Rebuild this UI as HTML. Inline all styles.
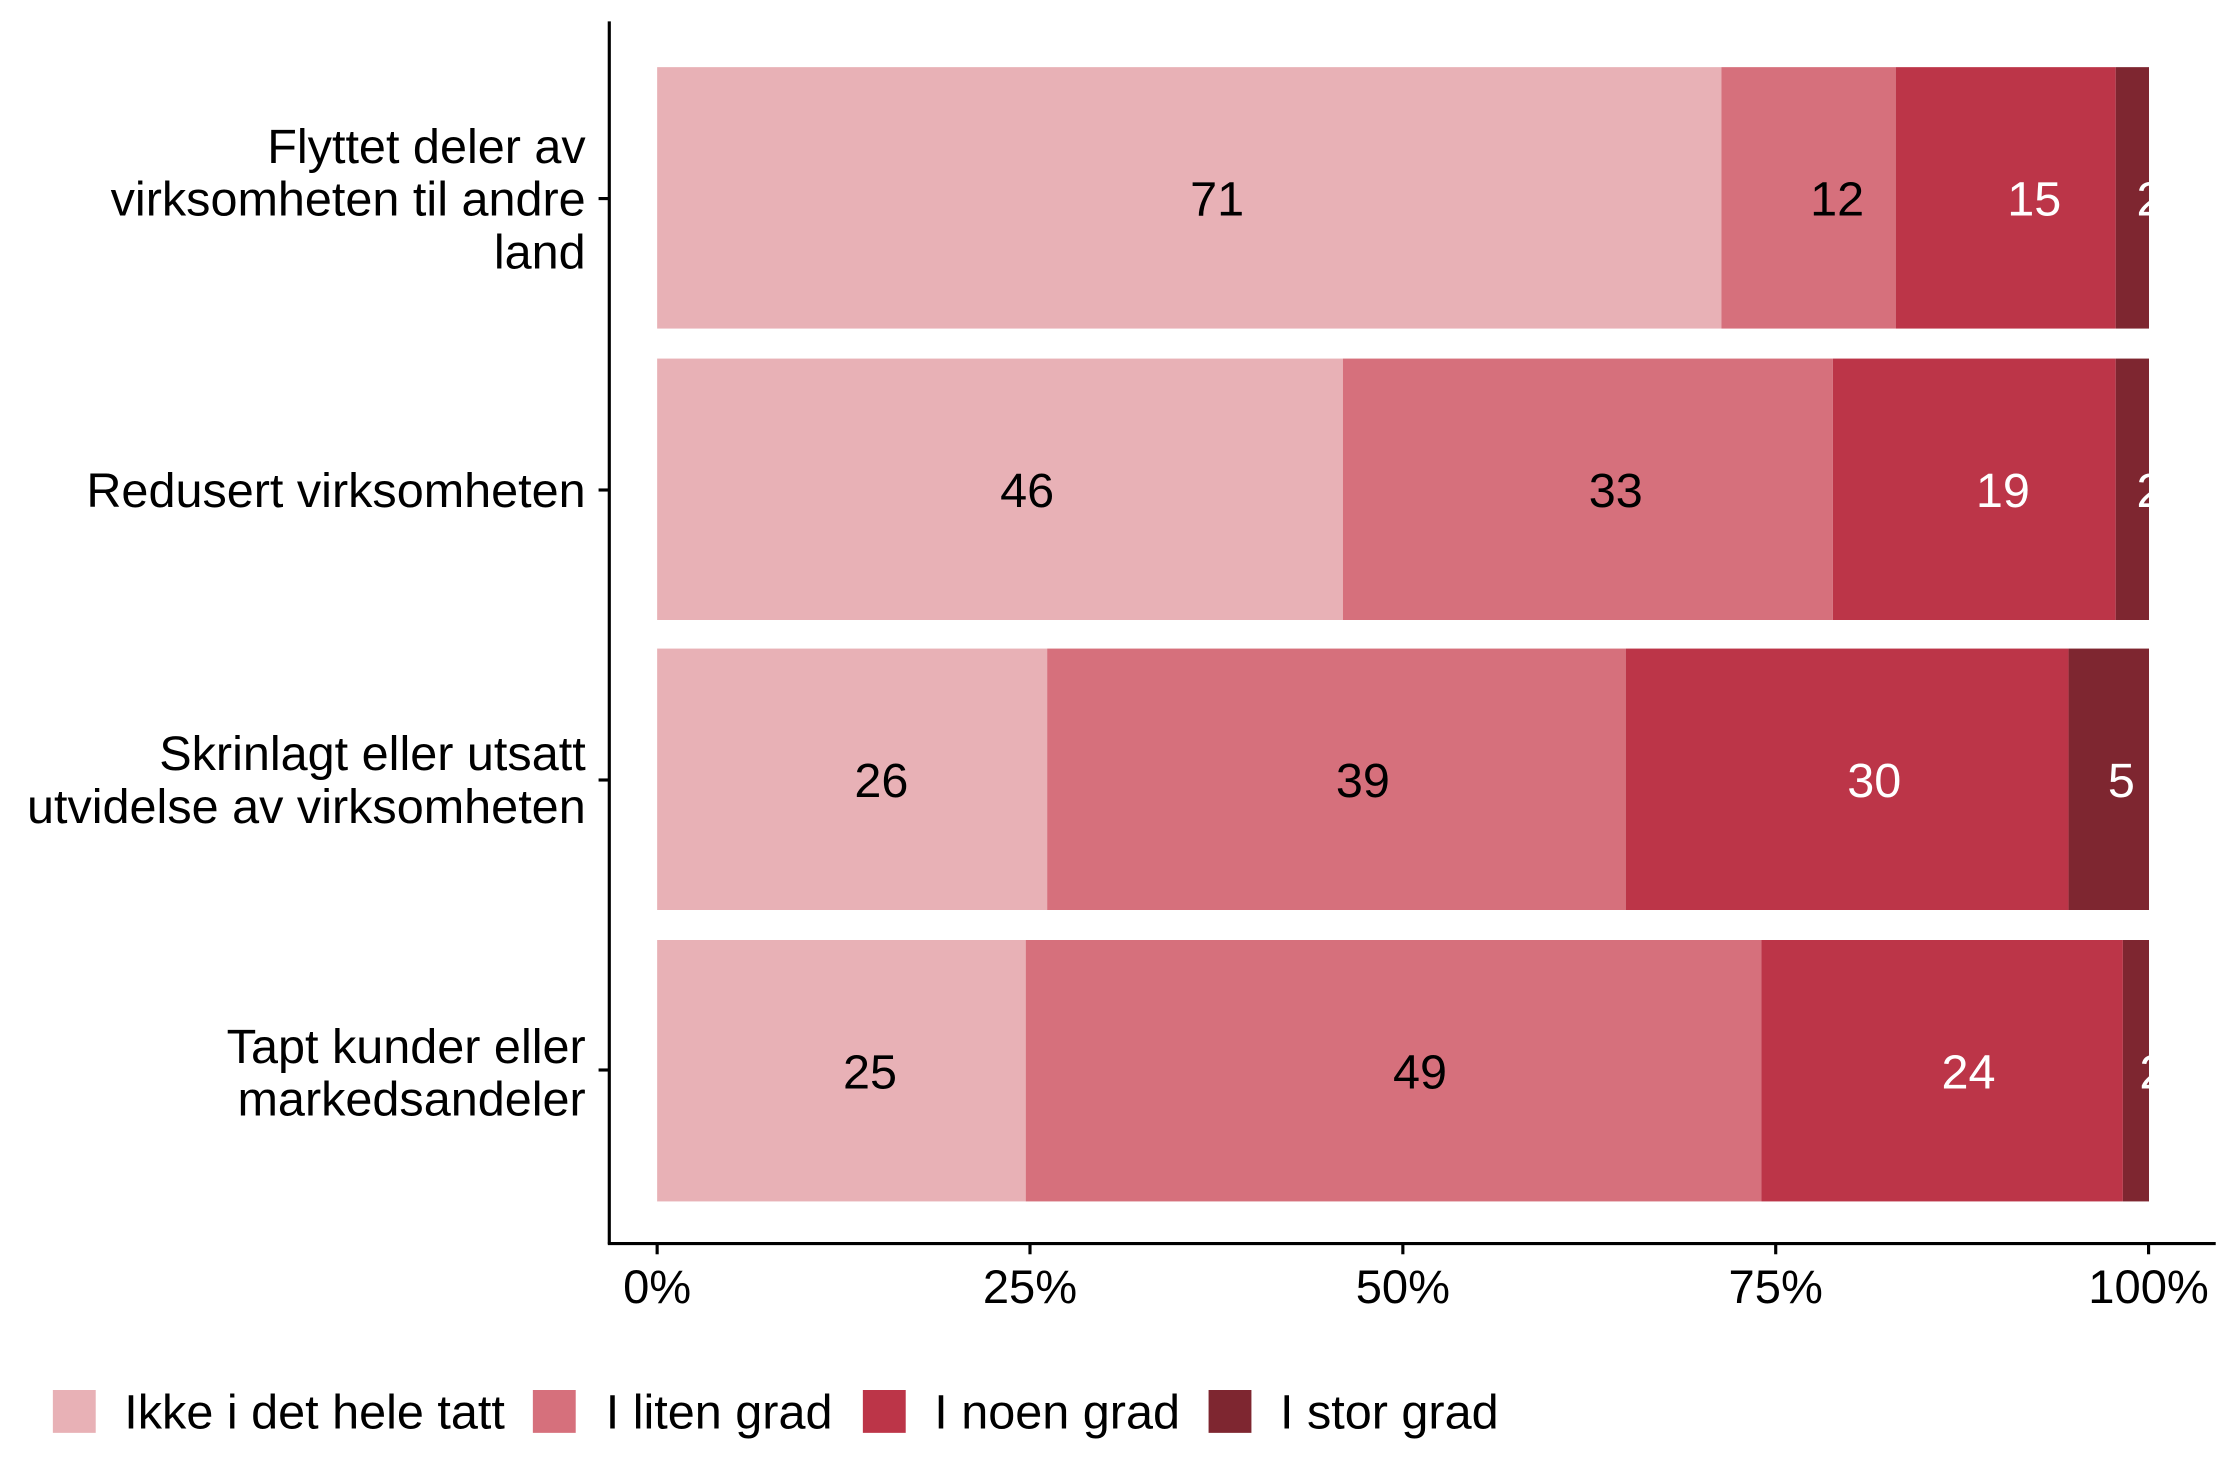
<!DOCTYPE html>
<html><head><meta charset="utf-8"><style>
html,body{margin:0;padding:0;background:#fff;}
svg{display:block;}
text{font-family:"Liberation Sans",Arial,sans-serif;}
</style></head><body>
<svg width="2240" height="1484" viewBox="0 0 1568 1038.8" xmlns="http://www.w3.org/2000/svg">
<defs><clipPath id="c"><rect x="0" y="0" width="1504.3" height="1038"/></clipPath></defs>
<rect width="1568" height="1039" fill="#fff"/>
<g>
<rect x="460" y="47" width="745" height="183" fill="#E8B1B6"/>
<rect x="1205" y="47" width="122" height="183" fill="#D6707C"/>
<rect x="1327" y="47" width="154" height="183" fill="#BC3548"/>
<rect x="1481" y="47" width="23.3" height="183" fill="#7E2630"/>
<rect x="460" y="251" width="480" height="183" fill="#E8B1B6"/>
<rect x="940" y="251" width="343" height="183" fill="#D6707C"/>
<rect x="1283" y="251" width="198" height="183" fill="#BC3548"/>
<rect x="1481" y="251" width="23.3" height="183" fill="#7E2630"/>
<rect x="460" y="454" width="273" height="183" fill="#E8B1B6"/>
<rect x="733" y="454" width="405" height="183" fill="#D6707C"/>
<rect x="1138" y="454" width="310" height="183" fill="#BC3548"/>
<rect x="1448" y="454" width="56.3" height="183" fill="#7E2630"/>
<rect x="460" y="658" width="258" height="183" fill="#E8B1B6"/>
<rect x="718" y="658" width="515" height="183" fill="#D6707C"/>
<rect x="1233" y="658" width="253" height="183" fill="#BC3548"/>
<rect x="1486" y="658" width="18.3" height="183" fill="#7E2630"/>
</g>
<g font-size="34" text-anchor="middle" clip-path="url(#c)">
<text x="852" y="151" fill="#000">71</text>
<text x="1286" y="151" fill="#000">12</text>
<text x="1424" y="151" fill="#fff">15</text>
<text x="1505" y="151" fill="#fff">2</text>
<text x="719" y="355" fill="#000">46</text>
<text x="1131" y="355" fill="#000">33</text>
<text x="1402" y="355" fill="#fff">19</text>
<text x="1505" y="355" fill="#fff">2</text>
<text x="617" y="558" fill="#000">26</text>
<text x="954" y="558" fill="#000">39</text>
<text x="1312" y="558" fill="#fff">30</text>
<text x="1485" y="558" fill="#fff">5</text>
<text x="609" y="762" fill="#000">25</text>
<text x="994" y="762" fill="#000">49</text>
<text x="1378" y="762" fill="#fff">24</text>
<text x="1507" y="762" fill="#fff">2</text>
</g>
<line x1="426.5" y1="15" x2="426.5" y2="871" stroke="#000" stroke-width="2.2"/>
<line x1="425.5" y1="870.5" x2="1551" y2="870.5" stroke="#000" stroke-width="2.2"/>
<g stroke="#000" stroke-width="2.2">
<line x1="419" y1="139" x2="426" y2="139"/>
<line x1="419" y1="343" x2="426" y2="343"/>
<line x1="419" y1="546" x2="426" y2="546"/>
<line x1="419" y1="749" x2="426" y2="749"/>
<line x1="460" y1="871" x2="460" y2="878"/>
<line x1="721" y1="871" x2="721" y2="878"/>
<line x1="982" y1="871" x2="982" y2="878"/>
<line x1="1243" y1="871" x2="1243" y2="878"/>
<line x1="1504" y1="871" x2="1504" y2="878"/>
</g>
<g font-size="34" text-anchor="end" fill="#000">
<text x="410" y="114">Flyttet deler av</text>
<text x="410" y="151">virksomheten til andre</text>
<text x="410" y="188">land</text>
<text x="410" y="355">Redusert virksomheten</text>
<text x="410" y="539">Skrinlagt eller utsatt</text>
<text x="410" y="576">utvidelse av virksomheten</text>
<text x="410" y="744">Tapt kunder eller</text>
<text x="410" y="781">markedsandeler</text>
</g>
<g font-size="33" text-anchor="middle" fill="#000">
<text x="460" y="912">0%</text>
<text x="721" y="912">25%</text>
<text x="982" y="912">50%</text>
<text x="1243" y="912">75%</text>
<text x="1504" y="912">100%</text>
</g>
<g font-size="34" fill="#000">
<rect x="37" y="973" width="30" height="30" fill="#E8B1B6"/>
<text x="87" y="1000">Ikke i det hele tatt</text>
<rect x="373" y="973" width="30" height="30" fill="#D6707C"/>
<text x="424" y="1000">I liten grad</text>
<rect x="604" y="973" width="30" height="30" fill="#BC3548"/>
<text x="654" y="1000">I noen grad</text>
<rect x="846" y="973" width="30" height="30" fill="#7E2630"/>
<text x="896" y="1000">I stor grad</text>
</g>
</svg>
</body></html>
